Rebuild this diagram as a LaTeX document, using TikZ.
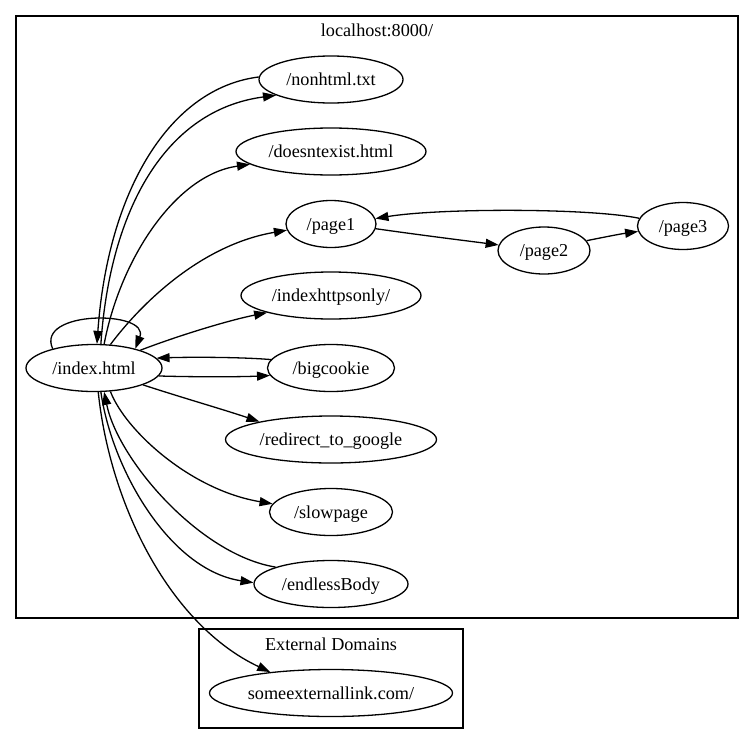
\documentclass[tikz,border=0pt]{standalone}
\usepackage{fontspec}
\setmainfont{Liberation Serif}
\usetikzlibrary{shapes.geometric,arrows.meta}
\newcommand{\nlab}[1]{\makebox[0pt]{#1}}
\begin{document}
\begin{tikzpicture}[x=1pt,y=-1pt,
  font=\fontsize{18.2}{22}\selectfont,
  nd/.style={ellipse, draw, line width=1.3pt, minimum width=#1, minimum height=47pt, inner sep=0pt, text height=16pt, text depth=4pt},
  conn/.style={line width=1.3pt, -{Triangle[length=13pt,width=9pt]}},
  clus/.style={draw, line width=1.3pt}]
\useasboundingbox (0,0) rectangle (754,744);
% clusters
\draw[clus] (16,16) rectangle (738,618);
\draw[clus] (199,629) rectangle (463,728);
\node[anchor=base] (lab1) at (377,36.7) {localhost:8000/};
\node[anchor=base] (lab2) at (331,650) {External Domains};
% nodes
\node[nd=144pt] (nonhtml) at (331,79.5) {\nlab{/nonhtml.txt}};
\node[nd=190pt] (doesnt) at (331,151.5) {\nlab{/doesntexist.html}};
\node[nd=90pt] (page1) at (331,224) {\nlab{/page1}};
\node[nd=92pt] (page2) at (544,250.5) {\nlab{/page2}};
\node[nd=91pt] (page3) at (683,226) {\nlab{/page3}};
\node[nd=180pt] (https) at (331,295.5) {\nlab{/indexhttpsonly/}};
\node[nd=136pt] (index) at (94,368) {\nlab{/index.html}};
\node[nd=127pt] (bigcookie) at (331,368) {\nlab{/bigcookie}};
\node[nd=211pt] (redirect) at (331,439.5) {\nlab{/redirect\_to\_google}};
\node[nd=123pt] (slowpage) at (331,512) {\nlab{/slowpage}};
\node[nd=154pt] (endless) at (331,584) {\nlab{/endlessBody}};
\node[nd=243pt] (external) at (331,693) {\nlab{someexternallink.com/}};
% edges
\draw[conn] (nonhtml.178) .. controls (170,88) and (108,190) .. (index.83);
\draw[conn] (index.74) .. controls (110,210) and (165,110) .. (nonhtml.196);
\draw[conn] (index.67) .. controls (120,260) and (175,175) .. (doesnt.189);
\draw[conn] (index.55) .. controls (140,305) and (200,245) .. (page1.188);
\draw[conn] (index.155) .. controls (35,310) and (150,310) .. (index.25);
\draw[conn] (index.21) .. controls (180,335) and (230,320) .. (https.195);
\draw[conn] (bigcookie.172) .. controls (240,357) and (190,357) .. (index.9);
\draw[conn] (index.353) .. controls (190,377) and (240,377) .. (bigcookie.187);
\draw[conn] (index.341) .. controls (180,397) and (225,410) .. (redirect.166);
\draw[conn] (index.305) .. controls (125,430) and (190,490) .. (slowpage.172);
\draw[conn] (index.286) .. controls (112,470) and (170,570) .. (endless.179);
\draw[conn] (endless.163) .. controls (200,555) and (118,460) .. (index.293);
\draw[conn] (index.280) .. controls (110,505) and (170,625) .. (external.161);
\draw[conn] (page1.354) .. controls (420,235) and (460,240) .. (page2.173);
\draw[conn] (page2.13) .. controls (605,237) and (620,234) .. (page3.187);
\draw[conn] (page3.170) .. controls (590,208) and (440,208) .. (page1.7);
\end{tikzpicture}
\end{document}
